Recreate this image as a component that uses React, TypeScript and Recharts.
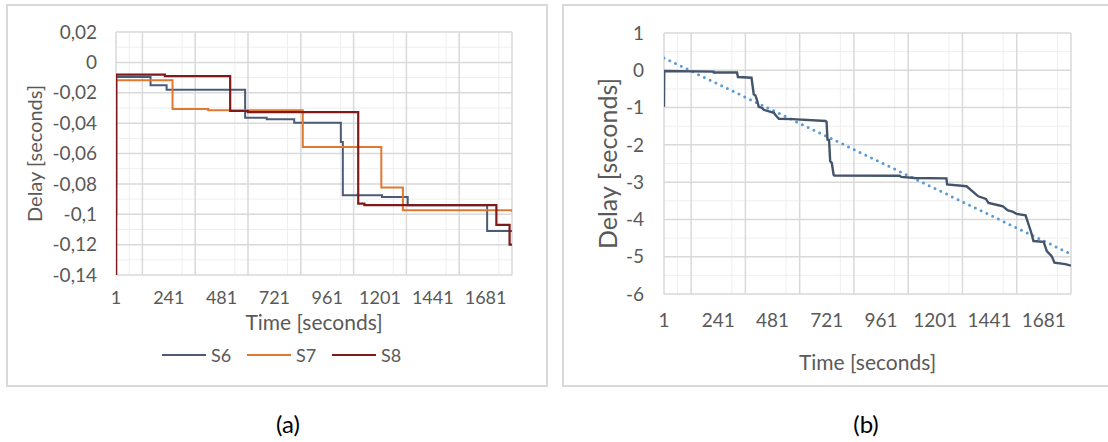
import React from 'react';
import { LineChart, Line, XAxis, YAxis, CartesianGrid } from 'recharts';

// ---------- shared axis ----------
const timeTicks = [1, 241, 481, 721, 961, 1201, 1441, 1681];
const timeDomain = [1, 1801];

// ---------- chart (a) ----------
const aDelayTicks = [0.02, 0, -0.02, -0.04, -0.06, -0.08, -0.1, -0.12, -0.14];
const aMinorDelay = [0.01, -0.01, -0.03, -0.05, -0.07, -0.09, -0.11, -0.13];

const s6Time = [1, 2, 158, 231, 588, 686, 811, 1023, 1032, 1210, 1327, 1688, 1801];
const s6Delay = [-0.1, -0.0097, -0.0151, -0.018, -0.0364, -0.0375, -0.0397, -0.0524, -0.0875, -0.0886, -0.094, -0.111, -0.111];

const s7Time = [1, 2, 258, 420, 850, 1207, 1305, 1801];
const s7Delay = [-0.08, -0.0118, -0.0307, -0.0316, -0.0557, -0.0824, -0.0974, -0.0985];

const s8Time = [1, 2, 223, 520, 600, 1102, 1130, 1730, 1790, 1801];
const s8Delay = [-0.14, -0.008, -0.009, -0.032, -0.0327, -0.093, -0.094, -0.107, -0.12, -0.12];

// ---------- chart (b) ----------
const bDelayTicks = [1, 0, -1, -2, -3, -4, -5, -6];
const bMinorDelay = [0.5, -0.5, -1.5, -2.5, -3.5, -4.5, -5.5];

const bTime = [1, 2, 220, 221, 324, 328, 388, 398, 405, 412, 420, 435, 442, 487, 494, 509, 568, 716, 720, 724, 731, 736, 743, 751, 754, 1043, 1050, 1109, 1250, 1253, 1339, 1391, 1425, 1436, 1480, 1500, 1520, 1545, 1560, 1600, 1625, 1635, 1680, 1694, 1716, 1728, 1776, 1801];
const bDelay = [-0.98, -0.02, -0.035, -0.06, -0.06, -0.18, -0.2, -0.65, -0.67, -0.79, -0.98, -1.01, -1.06, -1.14, -1.2, -1.3, -1.31, -1.36, -1.38, -1.86, -1.87, -2.44, -2.48, -2.8, -2.82, -2.83, -2.86, -2.89, -2.9, -3.06, -3.11, -3.38, -3.45, -3.56, -3.62, -3.65, -3.75, -3.8, -3.85, -3.89, -4.35, -4.58, -4.6, -4.85, -4.99, -5.16, -5.2, -5.24];

const trendTime = [1, 1801];
const trendDelay = [0.33, -4.93];

// ---------- helpers ----------
const zip = (ts: number[], vs: number[]) => ts.map((t, i) => ({ t, v: vs[i] }));
const majorX: number[] = [];
const minorX: number[] = [];
for (let t = 1; t <= 1801; t += 60) {
  if ((t - 1) % 120 === 0) majorX.push(t);
  else minorX.push(t);
}

const s6Data = zip(s6Time, s6Delay);
const s7Data = zip(s7Time, s7Delay);
const s8Data = zip(s8Time, s8Delay);
const bData = zip(bTime, bDelay);
const trendData = zip(trendTime, trendDelay);

const TEXT = '#595959';
const FONT = 'Lato, "Open Sans", sans-serif';
const fmtComma = (v: number) => String(v).replace('.', ',');

const S6C = '#4b5b75';
const S7C = '#e0782f';
const S8C = '#7e1a1a';

function LegendItem({ color, label, left }: { color: string; label: string; left: number }) {
  return (
    <div style={{ position: 'absolute', left, top: 344, height: 22, display: 'flex', alignItems: 'center' }}>
      <svg width={44} height={4} style={{ display: 'block' }}>
        <line x1={0} y1={2} x2={44} y2={2} stroke={color} strokeWidth={2} />
      </svg>
      <span style={{ marginLeft: 5, fontSize: 18, color: TEXT, lineHeight: '22px' }}>{label}</span>
    </div>
  );
}

export default function App() {
  return (
    <div style={{ position: 'absolute', left: 0, top: 0, width: 1108, height: 442, background: '#fff', overflow: 'hidden', fontFamily: FONT }}>
      {/* frames */}
      <div style={{ position: 'absolute', left: 6, top: 4, width: 538, height: 379, border: '2px solid #d9d9d9' }} />
      <div style={{ position: 'absolute', left: 562, top: 4, width: 600, height: 379, border: '2px solid #d9d9d9' }} />

      {/* chart (a) */}
      <div style={{ position: 'absolute', left: 0, top: 0 }}>
        <LineChart width={546} height={345} margin={{ top: 32, right: 34, left: 0, bottom: 0 }}>
          <CartesianGrid stroke="#eeeeee" strokeWidth={1} verticalValues={minorX} horizontalValues={aMinorDelay} />
          <CartesianGrid stroke="#d9d9d9" strokeWidth={1.5} verticalValues={majorX} horizontalValues={aDelayTicks} />
          <XAxis
            dataKey="t"
            type="number"
            domain={timeDomain}
            ticks={timeTicks}
            allowDataOverflow
            axisLine={false}
            tickLine={false}
            tickMargin={10}
            height={70}
            tick={{ fill: TEXT, fontSize: 18 }}
            label={{ value: 'Time [seconds]', position: 'insideBottom', offset: 15, style: { fill: TEXT, fontSize: 21 } }}
          />
          <YAxis
            dataKey="v"
            type="number"
            domain={[-0.14, 0.02]}
            ticks={aDelayTicks}
            allowDataOverflow
            axisLine={false}
            tickLine={false}
            tickMargin={13}
            width={116}
            tickFormatter={fmtComma}
            tick={{ fill: TEXT, fontSize: 19 }}
            label={{ value: 'Delay [seconds]', angle: -90, position: 'insideLeft', offset: 35, style: { textAnchor: 'middle', fill: TEXT, fontSize: 20 } }}
          />
          <Line data={s6Data} dataKey="v" type="stepAfter" stroke={S6C} strokeWidth={2} dot={false} isAnimationActive={false} />
          <Line data={s7Data} dataKey="v" type="stepAfter" stroke={S7C} strokeWidth={2} dot={false} isAnimationActive={false} />
          <Line data={s8Data} dataKey="v" type="stepAfter" stroke={S8C} strokeWidth={2.2} dot={false} isAnimationActive={false} />
        </LineChart>
      </div>
      <LegendItem color={S6C} label="S6" left={162} />
      <LegendItem color={S7C} label="S7" left={247} />
      <LegendItem color={S8C} label="S8" left={332} />

      {/* chart (b) */}
      <div style={{ position: 'absolute', left: 563, top: 0 }}>
        <LineChart width={545} height={390} margin={{ top: 33, right: 37, left: 0, bottom: 0 }}>
          <CartesianGrid stroke="#eeeeee" strokeWidth={1} verticalValues={minorX} horizontalValues={bMinorDelay} />
          <CartesianGrid stroke="#d9d9d9" strokeWidth={1.5} verticalValues={majorX} horizontalValues={bDelayTicks} />
          <XAxis
            dataKey="t"
            type="number"
            domain={timeDomain}
            ticks={timeTicks}
            allowDataOverflow
            axisLine={false}
            tickLine={false}
            tickMargin={14}
            height={96}
            tick={{ fill: TEXT, fontSize: 19 }}
            label={{ value: 'Time [seconds]', position: 'insideBottom', offset: 20, style: { fill: TEXT, fontSize: 21 } }}
          />
          <YAxis
            dataKey="v"
            type="number"
            domain={[-6, 1]}
            ticks={bDelayTicks}
            allowDataOverflow
            axisLine={false}
            tickLine={false}
            tickMargin={14}
            width={101}
            tick={{ fill: TEXT, fontSize: 19 }}
            label={{ value: 'Delay [seconds]', angle: -90, position: 'insideLeft', offset: 45, style: { textAnchor: 'middle', fill: TEXT, fontSize: 25 } }}
          />
          <Line data={trendData} dataKey="v" type="linear" stroke="#5b9bd5" strokeWidth={3} strokeDasharray="0 6.4" strokeLinecap="round" dot={false} isAnimationActive={false} />
          <Line data={bData} dataKey="v" type="linear" stroke="#44546a" strokeWidth={2.4} dot={false} isAnimationActive={false} />
        </LineChart>
      </div>

      {/* captions */}
      <div style={{ position: 'absolute', left: 238, width: 100, top: 409, textAlign: 'center', fontSize: 24, color: '#000', lineHeight: '30px' }}>(a)</div>
      <div style={{ position: 'absolute', left: 816, width: 100, top: 409, textAlign: 'center', fontSize: 24, color: '#000', lineHeight: '30px' }}>(b)</div>
    </div>
  );
}
